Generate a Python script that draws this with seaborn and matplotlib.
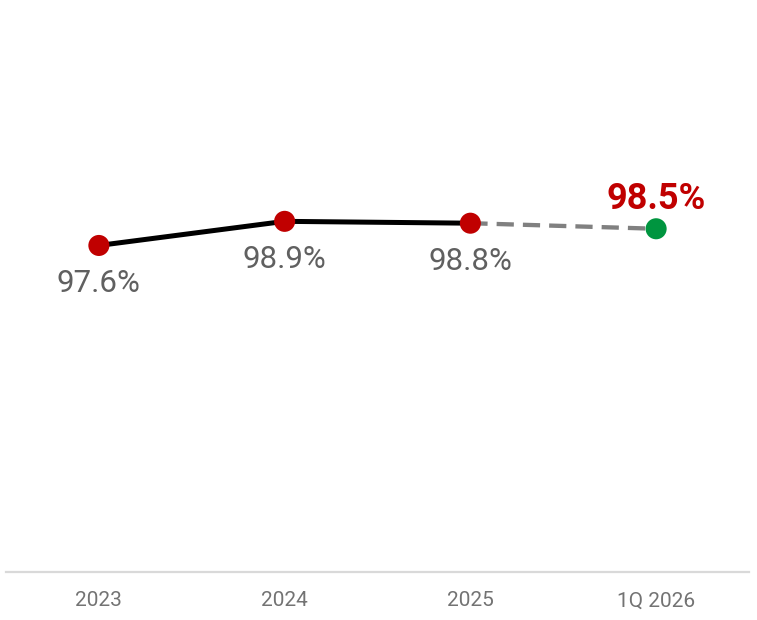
import matplotlib
matplotlib.use("Agg")
import matplotlib.pyplot as plt
import seaborn as sns
import pandas as pd

periods = ["2023", "2024", "2025", "1Q 2026"]
rate = [97.6, 98.9, 98.8, 98.5]
labels = ["97.6%", "98.9%", "98.8%", "98.5%"]

sns.set_theme(style="white")
plt.rcParams["font.family"] = ["Roboto", "DejaVu Sans"]

df = pd.DataFrame({"pos": range(len(periods)), "rate": rate})
actual = df.iloc[:3]
latest = df.iloc[2:]

fig = plt.figure(figsize=(7.57, 6.2), dpi=100)
ax = fig.add_axes([6 / 757, 48 / 620, 743 / 757, 572 / 620])

# solid line for full years, dashed link to the latest quarter
sns.lineplot(data=actual, x="pos", y="rate", ax=ax, color="black",
             linewidth=3.6, zorder=2)
sns.lineplot(data=latest, x="pos", y="rate", ax=ax, color="#808080",
             linewidth=3.1, linestyle=(0, (4, 2.1)), zorder=1)
sns.scatterplot(data=actual, x="pos", y="rate", ax=ax, color="#c00000",
                s=230, edgecolor="none", zorder=3)
sns.scatterplot(data=df.iloc[3:], x="pos", y="rate", ax=ax, color="#00953f",
                s=230, edgecolor="none", zorder=3)

for i, (v, t) in enumerate(zip(rate, labels)):
    if i < 3:
        ax.annotate(t, (i, v), xytext=(0, -27.5), textcoords="offset points",
                    ha="center", va="center", fontsize=22.5,
                    fontweight="normal", color="#606060")
    else:
        ax.annotate(t, (i, v), xytext=(0, 21.5), textcoords="offset points",
                    ha="center", va="center", fontsize=26,
                    fontweight="bold", color="#c00000")

ax.set_xlim(-0.5, 3.5)
ax.set_ylim(80, 110.83)
ax.set_xticks(range(len(periods)))
ax.set_xticklabels(periods, fontsize=15, color="#737373", fontweight="normal")
ax.set_yticks([])
ax.set_xlabel("")
ax.set_ylabel("")
ax.tick_params(axis="x", length=0, pad=14)
for side in ["top", "left", "right"]:
    ax.spines[side].set_visible(False)
ax.spines["bottom"].set_color("#d9d9d9")
ax.spines["bottom"].set_linewidth(1.6)
ax.patch.set_alpha(0)

fig.savefig("out.png", dpi=100)
